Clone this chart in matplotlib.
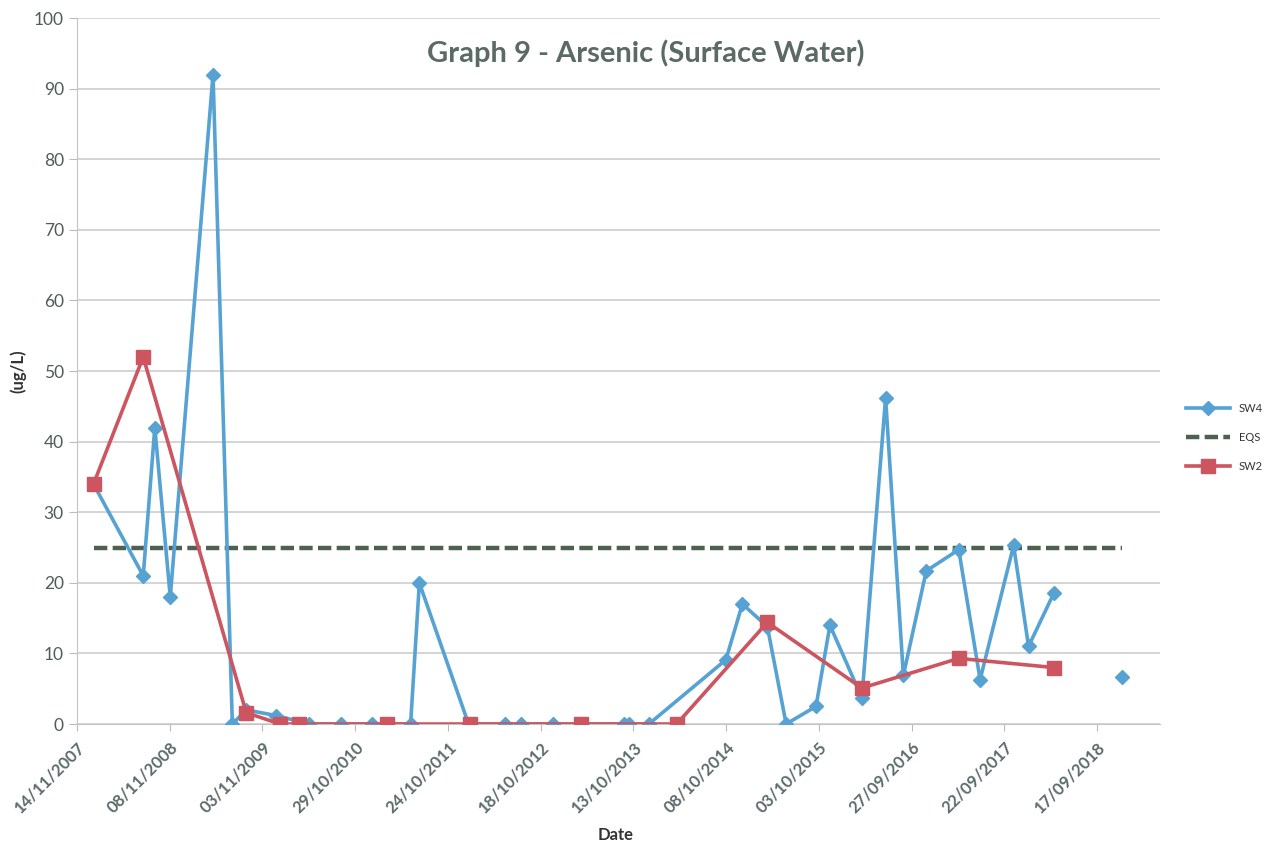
import matplotlib
matplotlib.use("Agg")
import matplotlib.pyplot as plt
import pandas as pd

# SW4 samples (blue); the final sample stands alone in the source chart
sw4_dates = ["2008-01-17", "2008-07-28", "2008-09-11", "2008-11-10", "2009-04-25",
             "2009-07-09", "2009-09-01", "2009-12-26", "2010-05-03", "2010-09-04",
             "2011-01-02", "2011-06-01", "2011-07-05", "2012-01-12", "2012-06-03",
             "2012-08-04", "2012-12-05", "2013-09-06", "2013-09-25", "2013-12-12",
             "2014-10-07", "2014-12-10", "2015-03-17", "2015-05-29", "2015-09-22",
             "2015-11-15", "2016-03-18", "2016-06-18", "2016-08-26", "2016-11-23",
             "2017-03-29", "2017-06-20", "2017-10-28", "2017-12-25", "2018-04-03"]
sw4_values = [34, 21, 42, 18, 92,
              0, 2, 1.2, 0, 0,
              0, 0, 20, 0, 0,
              0, 0, 0, 0, 0,
              9.1, 17, 13.8, 0, 2.5,
              14, 3.7, 46.2, 6.9, 21.7,
              24.7, 6.3, 25.3, 11, 18.6]
sw4_last_date = ["2018-12-21"]
sw4_last_value = [6.6]

# SW2 samples (red)
sw2_dates = ["2008-01-17", "2008-07-28", "2009-09-01", "2010-01-11", "2010-03-25",
             "2011-03-01", "2012-01-16", "2013-03-24", "2014-03-30", "2015-03-17",
             "2016-03-18", "2017-03-29", "2018-04-03"]
sw2_values = [34, 52, 1.6, 0, 0,
              0, 0, 0, 0, 14.4,
              5.1, 9.3, 8.0]

# Environmental quality standard
eqs_dates = ["2008-01-17", "2018-12-21"]
eqs_values = [25, 25]

tick_dates = ["2007-11-14", "2008-11-08", "2009-11-03", "2010-10-29", "2011-10-24",
              "2012-10-18", "2013-10-13", "2014-10-08", "2015-10-03", "2016-09-27",
              "2017-09-22", "2018-09-17"]
tick_labels = ["14/11/2007", "08/11/2008", "03/11/2009", "29/10/2010", "24/10/2011",
               "18/10/2012", "13/10/2013", "08/10/2014", "03/10/2015", "27/09/2016",
               "22/09/2017", "17/09/2018"]

plt.rcParams['font.family'] = ['Lato', 'DejaVu Sans']

blue = '#56a3d3'
red = '#cc5560'
green = '#4e6150'
text_col = '#4f5d56'

fig = plt.figure(figsize=(12.71, 8.64), dpi=100)
ax = fig.add_axes([0.0606, 0.162, 0.852, 0.817])

ax.plot(pd.to_datetime(sw4_dates), sw4_values, color=blue, lw=2.6, marker='D',
        markersize=7, label='SW4', zorder=3)
ax.plot(pd.to_datetime(sw4_last_date), sw4_last_value, color=blue, lw=0, marker='D',
        markersize=7, zorder=3)
ax.plot(pd.to_datetime(eqs_dates), eqs_values, color=green, lw=3.2,
        linestyle=(0, (3, 1.2)), label='EQS', zorder=2)
ax.plot(pd.to_datetime(sw2_dates), sw2_values, color=red, lw=2.6, marker='s',
        markersize=10, label='SW2', zorder=4)

ax.set_xlim(pd.Timestamp("2007-11-14"), pd.Timestamp("2019-05-19"))
ax.set_ylim(0, 100)
ax.set_yticks(range(0, 101, 10))
ax.set_xticks(pd.to_datetime(tick_dates))
ax.set_xticklabels(tick_labels, rotation=45, ha='right', va='top',
                   rotation_mode='anchor', fontsize=12, fontweight='bold', color='#5c6b6a')
ax.tick_params(axis='y', labelsize=12.5, colors=text_col, length=6, color='#bbbbbb')
ax.tick_params(axis='x', length=5, color='#bbbbbb', pad=6)

ax.grid(axis='y', color='#c9c9c9', lw=1.1)
ax.set_axisbelow(True)
for side in ['top', 'right']:
    ax.spines[side].set_visible(False)
ax.spines['left'].set_color('#c4c4c4')
ax.spines['bottom'].set_color('#c4c4c4')

ax.set_xlabel('Date', fontsize=12, fontweight='bold', color='#333333')
ax.xaxis.set_label_coords(0.497, -0.146)
ax.set_ylabel('(ug/L)', fontsize=12, fontweight='bold', color='#333333')
ax.yaxis.set_label_coords(-0.047, 0.5)

ax.text(0.525, 0.95, 'Graph 9 - Arsenic (Surface Water)', transform=ax.transAxes,
        ha='center', va='center', fontsize=21, fontweight='bold', color='#5b6b63')

fig.legend(loc='upper left', bbox_to_anchor=(0.925, 0.545), frameon=False,
           fontsize=8, labelcolor='#333333', handlelength=4, labelspacing=1.6)

fig.savefig('out.png', dpi=100)
